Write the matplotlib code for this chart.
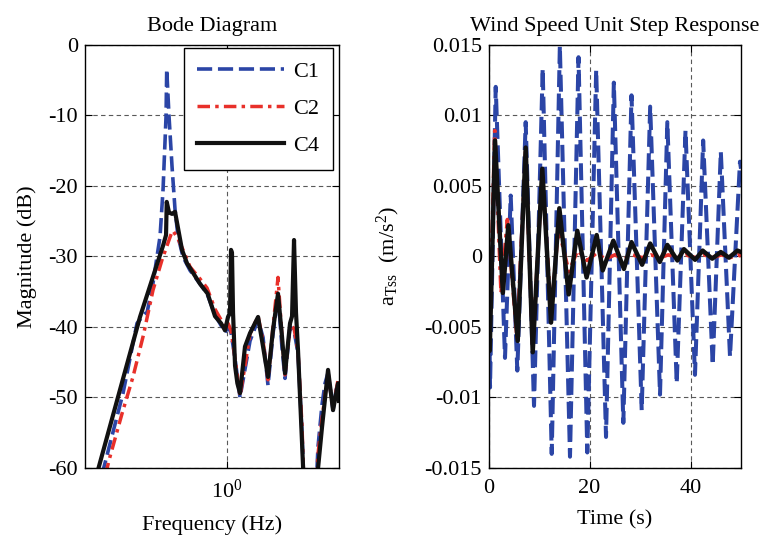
import numpy as np
import matplotlib
matplotlib.use("Agg")
import matplotlib.pyplot as plt

plt.rcParams['font.family'] = ['Liberation Serif', 'DejaVu Serif']
plt.rcParams['mathtext.fontset'] = 'custom'
plt.rcParams['mathtext.rm'] = 'Liberation Serif'
plt.rcParams['mathtext.it'] = 'Liberation Serif:italic'
plt.rcParams['axes.unicode_minus'] = False

# ---------------- Bode diagram data (Hz, dB) ----------------
c1_f = [0.295, 0.3627, 0.4158, 0.4497, 0.4586, 0.4863, 0.5209, 0.5364, 0.5524, 0.5561,
        0.5688, 0.5858, 0.6032, 0.6211, 0.6523, 0.6984, 0.770, 0.825, 0.892, 0.946,
        0.9836, 1.013, 1.043, 1.085, 1.139, 1.196, 1.256, 1.359, 1.427, 1.498, 1.573,
        1.652, 1.718, 1.769, 1.858, 1.932, 2.009, 2.089, 2.131, 2.396, 2.443, 2.541,
        2.617, 2.695, 2.830, 2.914, 2.972, 3.0]
c1_db = [-61.0, -49.4, -39.5, -38.1, -38.0, -33.8, -27.2, -20.6, -10.2, -3.5,
         -10.2, -17.3, -23.4, -27.2, -30.1, -32.0, -33.9, -35.3, -38.3, -39.8,
         -40.8, -40.0, -40.8, -44.5, -50.0, -46.0, -42.0, -39.0, -41.5, -48.3, -41.0,
         -35.5, -43.0, -47.3, -40.0, -40.5, -43.8, -55.0, -63.0, -63.0, -57.0, -51.0,
         -48.0, -46.5, -51.8, -49.0, -48.0, -50.0]

c2_f = [0.305, 0.3193, 0.3591, 0.3997, 0.441, 0.4863, 0.5312, 0.5577, 0.5858, 0.5915,
        0.6211, 0.6523, 0.6984, 0.770, 0.825, 0.892, 0.946, 0.9836, 1.013, 1.043,
        1.085, 1.139, 1.196, 1.256, 1.359, 1.427, 1.498, 1.573, 1.652, 1.718, 1.769,
        1.858, 1.932, 2.009, 2.089, 2.131, 2.396, 2.443, 2.541, 2.695, 2.830, 2.972, 3.0]
c2_db = [-61.0, -58.4, -52.3, -47.1, -41.4, -34.8, -30.5, -28.5, -26.5, -26.4,
         -27.5, -29.1, -31.5, -33.2, -34.5, -37.5, -39.0, -40.2, -39.5, -40.5,
         -44.5, -49.8, -45.5, -41.0, -38.5, -42.0, -47.5, -40.0, -33.0, -41.5, -46.8,
         -39.8, -40.2, -43.5, -54.0, -63.0, -63.0, -58.0, -53.0, -46.5, -51.5, -47.5, -49.0]

c4_f = [0.28, 0.4282, 0.4863, 0.5364, 0.5524, 0.5561, 0.5688, 0.5858, 0.6032, 0.6459,
        0.6783, 0.770, 0.830, 0.892, 0.946, 0.9836, 1.013, 1.033, 1.043, 1.053,
        1.064, 1.085, 1.110, 1.139, 1.196, 1.256, 1.359, 1.427, 1.498, 1.573, 1.652,
        1.718, 1.769, 1.858, 1.895, 1.932, 1.970, 2.009, 2.131, 2.396, 2.541, 2.695,
        2.830, 2.972, 3.0]
c4_db = [-61.0, -38.6, -32.9, -28.5, -27.0, -22.3, -23.8, -24.0, -23.7, -29.1,
         -31.0, -33.9, -35.3, -38.5, -39.5, -40.5, -38.6, -38.0, -29.1, -29.5,
         -38.0, -45.5, -48.0, -49.4, -42.8, -40.9, -38.6, -42.8, -47.1, -40.4, -35.3,
         -41.4, -46.6, -39.5, -38.5, -27.7, -38.0, -43.3, -63.0, -63.0, -54.2, -46.1,
         -51.8, -48.0, -50.5]

# ---------------- Step response data (s, m/s^2) ----------------
c1_t = [0, 0.26, 1.39, 3.23, 4.36, 5.67, 7.33, 8.98, 10.7, 12.49, 14.1, 16.11, 17.8,
        19.54, 21.3, 23.25, 24.8, 26.68, 28.3, 30.32, 32.0, 33.95, 35.4, 37.26, 39.0,
        40.88, 42.5, 44.39, 46.0, 47.82, 49.8, 50]
c1_a = [0, -0.0093, 0.0120, -0.0072, 0.0043, -0.0081, 0.0095, -0.0106, 0.0133, -0.0140,
        0.0149, -0.0142, 0.0141, -0.0139, 0.0132, -0.0128, 0.0123, -0.0118, 0.0114,
        -0.0109, 0.0106, -0.0098, 0.0095, -0.0090, 0.0089, -0.0084, 0.0082, -0.0077,
        0.0074, -0.0071, 0.0067, 0.0062]

c2_t = [0, 0.2, 1.2, 2.44, 3.7, 5.6, 7.3, 8.7, 10.6, 12.4, 13.8, 15.9, 17.6, 19.5, 21.3,
        23.2, 25.0, 26.8, 28.5, 30.4, 32.1, 34.0, 35.6, 37.4, 39.0, 41.0, 42.6, 44.4,
        46.1, 47.8, 49.5, 50]
c2_a = [0, -0.0050, 0.0089, -0.0026, 0.0026, -0.0058, 0.0074, -0.0065, 0.0058, -0.0040,
        0.0020, -0.0011, 0.0004, -0.0003, 0.0002, -0.0002, 0.0001, -0.0002, 0.0001,
        -0.0001, 0.0001, -0.0001, 0.0001, -0.0001, 0.0001, -0.0001, 0.0001, -0.0001,
        0.0001, -0.0001, 0.0001, 0.0]

c4_t = [0, 0.2, 1.25, 2.8, 3.89, 5.75, 7.33, 8.72, 10.62, 12.35, 14.0, 15.85, 17.56,
        19.4, 21.4, 22.6, 24.7, 26.8, 28.3, 30.4, 32.0, 33.9, 35.4, 37.4, 38.7, 40.9,
        42.4, 44.3, 46.0, 47.6, 49.3, 50]
c4_a = [0, -0.0067, 0.0082, -0.0026, 0.0022, -0.0060, 0.0077, -0.0068, 0.0062, -0.0047,
        0.0034, -0.0027, 0.0018, -0.0015, 0.0015, -0.0010, 0.0011, -0.0009, 0.0010,
        -0.0006, 0.0009, -0.0004, 0.0008, -0.0003, 0.0005, -0.00025, 0.0004, -0.00017,
        0.0003, -0.0001, 0.0004, 0.0003]

labels = ["C1", "C2", "C4"]
mag_yticks = [0, -10, -20, -30, -40, -50, -60]
acc_yticks = [0.015, 0.01, 0.005, 0, -0.005, -0.01, -0.015]
acc_ytick_labels = ["0.015", "0.01", "0.005", "0", "-0.005", "-0.01", "-0.015"]
time_xticks = [0, 20, 40]

BLUE = '#2b45a6'
RED = '#e8302a'
BLACK = '#111111'
FS = 16

fig = plt.figure(figsize=(7.62, 5.45), dpi=100)
ax1 = fig.add_axes([85/762, 77/545, 254/762, 423.5/545])
ax2 = fig.add_axes([488.7/762, 77/545, 252.3/762, 423.5/545])

style = dict(dash_joinstyle='round', solid_joinstyle='round', dash_capstyle='butt')
BL_DASH = (4.2, 1.6)
RD_DASH = (3.6, 1.5, 1.0, 1.5)

for ax in (ax1, ax2):
    ax.grid(True, color='0.35', linestyle=(0, (4, 3)), linewidth=0.8)
    ax.tick_params(direction='in', top=True, right=True, length=5, width=0.8,
                   labelsize=FS)
    ax.tick_params(axis='x', pad=8)
    ax.tick_params(axis='y', pad=5)
    for s in ax.spines.values():
        s.set_linewidth(1.0)

# Left: Bode
l1, = ax1.semilogx(c1_f, c1_db, color=BLUE, lw=2.6, dashes=BL_DASH, **style)
l2, = ax1.semilogx(c2_f, c2_db, color=RED, lw=2.5, dashes=RD_DASH, **style)
l4, = ax1.semilogx(c4_f, c4_db, color=BLACK, lw=3.0, **style)
ax1.set_xlim(0.25, 3.0)
ax1.set_ylim(-60, 0)
ax1.set_xticks([1.0])
ax1.xaxis.set_minor_locator(matplotlib.ticker.NullLocator())
ax1.set_xticklabels([r'$10^{0}$'])
ax1.set_yticks(mag_yticks)
ax1.set_yticklabels([str(v) for v in mag_yticks])
ax1.set_xlabel('Frequency (Hz)', fontsize=FS, labelpad=9)
ax1.set_ylabel('Magnitude (dB)', fontsize=FS, labelpad=8)
ax1.set_title('Bode Diagram', fontsize=FS, pad=10)
leg = ax1.legend([l1, l2, l4], labels, loc='upper right',
                 bbox_to_anchor=(0.976, 0.992), fontsize=FS, handlelength=3.9,
                 handletextpad=0.45, labelspacing=0.75, borderpad=0.6,
                 fancybox=False, framealpha=1, edgecolor='black', borderaxespad=0)
leg.get_frame().set_linewidth(1.0)

# Right: step response
ax2.plot(c1_t, c1_a, color=BLUE, lw=2.9, dashes=BL_DASH, **style)
ax2.plot(c2_t, c2_a, color=RED, lw=2.6, dashes=RD_DASH, **style)
ax2.plot(c4_t, c4_a, color=BLACK, lw=3.2, **style)
ax2.set_xlim(0, 50)
ax2.set_ylim(-0.015, 0.015)
ax2.set_xticks(time_xticks)
ax2.set_yticks(acc_yticks)
ax2.set_yticklabels(acc_ytick_labels)
ax2.set_xlabel('Time (s)', fontsize=FS, labelpad=9)
ax2.set_ylabel(r'a$_{\mathrm{Tss}}$  (m/s$^2$)', fontsize=FS, labelpad=16)
ax2.set_title('Wind Speed Unit Step Response', fontsize=FS, pad=10)

fig.savefig('out.png', dpi=100)
